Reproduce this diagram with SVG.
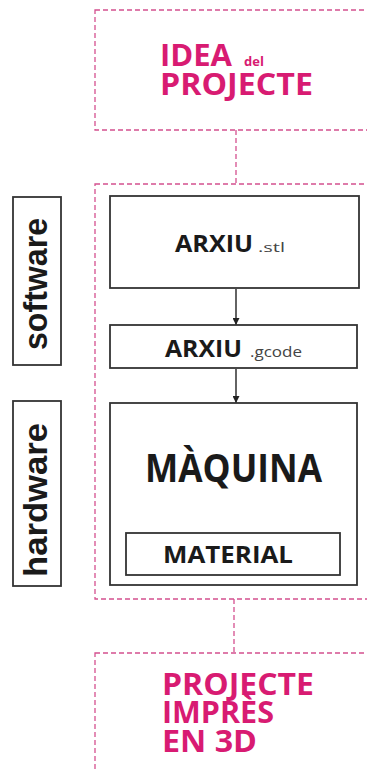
<svg xmlns="http://www.w3.org/2000/svg" width="367" height="769" viewBox="0 0 367 769">
<style>
.dash{fill:none;stroke:#d4508f;stroke-width:1.3;stroke-dasharray:5 3}
.box{fill:#fff;stroke:#333;stroke-width:1.8}
.pink{font-family:"Open Sans","Liberation Sans",sans-serif;font-weight:bold;fill:#d81b72}
.blk{font-family:"Open Sans","Liberation Sans",sans-serif;font-weight:bold;fill:#1a1a1a}
.ext{font-family:"Open Sans","Liberation Sans",sans-serif;fill:#444}
.side{font-family:"Liberation Sans",Arial,sans-serif;font-weight:bold;fill:#1a1a1a;font-size:33px}
.conn{stroke:#222;stroke-width:1.4;fill:none}
</style>
<defs>
<marker id="ah" viewBox="0 0 10 10" refX="10" refY="5" markerWidth="7" markerHeight="7" markerUnits="userSpaceOnUse" orient="auto">
<path d="M0,0 L10,5 L0,10 z" fill="#222"/>
</marker>
</defs>
<rect width="367" height="769" fill="#fff"/>
<g id="connectors">
<line class="dash" x1="236" y1="130" x2="236" y2="184"/>
<line class="dash" x1="234" y1="599" x2="234" y2="653"/>
<line class="conn" x1="236" y1="289" x2="236" y2="325" marker-end="url(#ah)"/>
<line class="conn" x1="236" y1="369" x2="236" y2="403" marker-end="url(#ah)"/>
</g>
<g id="idea">
<rect class="dash" x="95" y="10" width="290" height="120"/>
<text class="pink" x="160" y="66" font-size="30" textLength="72" lengthAdjust="spacingAndGlyphs">IDEA</text>
<text class="pink" x="244" y="66" font-size="13">del</text>
<text class="pink" x="160" y="95" font-size="30" textLength="153" lengthAdjust="spacingAndGlyphs">PROJECTE</text>
</g>
<g id="process">
<rect class="dash" x="95" y="184" width="290" height="415"/>
</g>
<g id="software">
<rect class="box" x="13" y="197" width="48" height="168"/>
<text class="side" transform="translate(47,284) rotate(-90)" text-anchor="middle" textLength="132" lengthAdjust="spacingAndGlyphs">software</text>
</g>
<g id="hardware">
<rect class="box" x="13" y="401" width="48" height="185"/>
<text class="side" transform="translate(47,500) rotate(-90)" text-anchor="middle" textLength="154" lengthAdjust="spacingAndGlyphs">hardware</text>
</g>
<g id="stl">
<rect class="box" x="110" y="196" width="249" height="92"/>
<text class="blk" x="175" y="252" font-size="23" textLength="78" lengthAdjust="spacingAndGlyphs">ARXIU</text>
<text class="ext" x="258" y="252" font-size="13" textLength="27" lengthAdjust="spacingAndGlyphs">.stl</text>
</g>
<g id="gcode">
<rect class="box" x="110" y="325" width="247" height="43"/>
<text class="blk" x="165" y="357" font-size="23" textLength="77" lengthAdjust="spacingAndGlyphs">ARXIU</text>
<text class="ext" x="250" y="357" font-size="15" textLength="52" lengthAdjust="spacingAndGlyphs">.gcode</text>
</g>
<g id="maquina">
<rect class="box" x="110" y="403" width="247" height="182"/>
<text class="blk" x="145" y="482" font-size="39" textLength="177" lengthAdjust="spacingAndGlyphs">MÀQUINA</text>
</g>
<g id="material">
<rect class="box" x="126" y="533" width="214" height="42"/>
<text class="blk" x="163" y="563" font-size="24" textLength="130" lengthAdjust="spacingAndGlyphs">MATERIAL</text>
</g>
<g id="resultat">
<rect class="dash" x="95" y="653" width="290" height="140"/>
<text class="pink" x="162" y="695" font-size="30" textLength="152" lengthAdjust="spacingAndGlyphs">PROJECTE</text>
<text class="pink" x="162" y="723" font-size="30" textLength="112" lengthAdjust="spacingAndGlyphs">IMPRÈS</text>
<text class="pink" x="162" y="752" font-size="30" textLength="95" lengthAdjust="spacingAndGlyphs">EN 3D</text>
</g>
</svg>
